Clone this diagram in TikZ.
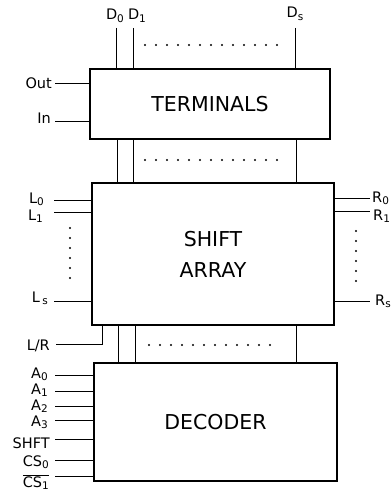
\documentclass[tikz,border=0pt]{standalone}
\usepackage{fontspec}
\setmainfont{DejaVu Sans}
\newcommand\sbs[1]{\raisebox{-0.35ex}{\fontsize{10.5}{10.5}\selectfont #1}}
\begin{document}
\begin{tikzpicture}[x=1pt,y=-1pt,
  blk/.style={draw, line width=1.3pt, inner sep=0pt, font=\fontsize{20.5}{31}\selectfont, align=center},
  wire/.style={line width=0.9pt},
  lbl/.style={font=\fontsize{14.5}{14.5}\selectfont, inner sep=0pt},
  dotrow/.style={line width=2.2pt, line cap=round, dash pattern=on 0pt off 11pt},
  dotcol/.style={line width=2.2pt, line cap=round, dash pattern=on 0pt off 10pt}]
\useasboundingbox (0,0) rectangle (391,494);

% blocks
\node[blk, minimum width=240pt, minimum height=70pt] (term) at (210,104) {TERMINALS};
\node[blk, minimum width=242pt, minimum height=142pt] (shift) at (213,254) {SHIFT\\ARRAY};
\node[blk, minimum width=243pt, minimum height=118pt] (dec) at (215.5,422) {DECODER};

% data lines top
\coordinate (d0t) at (116,28);
\coordinate (d1t) at (133,28);
\coordinate (dst) at (295,28);
\draw[wire] (d0t) -- (d0t |- term.north);
\draw[wire] (d1t) -- (d1t |- term.north);
\draw[wire] (dst) -- (dst |- term.north);
\node[lbl, anchor=base] (d0l) at (115,20) {D\sbs{0}};
\node[lbl, anchor=base] (d1l) at (137,20) {D\sbs{1}};
\node[lbl, anchor=base] (dsl) at (295,18) {D\sbs{s}};

% data lines between terminals and shift array
\coordinate (d0m) at (117,0);
\coordinate (d1m) at (133,0);
\coordinate (dsm) at (296,0);
\draw[wire] (term.south -| d0m) -- (shift.north -| d0m);
\draw[wire] (term.south -| d1m) -- (shift.north -| d1m);
\draw[wire] (term.south -| dsm) -- (shift.north -| dsm);

% data lines between shift array and decoder
\coordinate (d0b) at (118,0);
\coordinate (d1b) at (135,0);
\coordinate (dsb) at (296,0);
\draw[wire] (shift.south -| d0b) -- (dec.north -| d0b);
\draw[wire] (shift.south -| d1b) -- (dec.north -| d1b);
\draw[wire] (shift.south -| dsb) -- (dec.north -| dsb);

% dotted rows
\draw[dotrow] (145,45) -- (278,45);
\draw[dotrow] (145,160) -- (278,160);
\draw[dotrow] (149,345) -- (279,345);

% terminals inputs
\coordinate (outc) at (55,83);
\coordinate (inc) at (55,121);
\draw[wire] (outc) -- (outc -| term.west);
\draw[wire] (inc) -- (inc -| term.west);
\node[lbl, anchor=base east] (outl) at (52,89) {Out};
\node[lbl, anchor=base east] (inl) at (51,124) {In};

% shift array left
\coordinate (l0c) at (54,200);
\coordinate (l1c) at (54,212);
\coordinate (lsc) at (54,301);
\draw[wire] (l0c) -- (l0c -| shift.west);
\draw[wire] (l1c) -- (l1c -| shift.west);
\draw[wire] (lsc) -- (lsc -| shift.west);
\node[lbl, anchor=base east] (l0l) at (44,203) {L\sbs{0}};
\node[lbl, anchor=base east] (l1l) at (43,220) {L\sbs{1}};
\node[lbl, anchor=base east] (lsl) at (48,302) {L\,\sbs{s}};
\draw[dotcol] (70,228) -- (70,279);

% shift array right
\coordinate (r0c) at (370,198);
\coordinate (r1c) at (370,211);
\coordinate (rsc) at (370,301);
\draw[wire] (r0c -| shift.east) -- (r0c);
\draw[wire] (r1c -| shift.east) -- (r1c);
\draw[wire] (rsc -| shift.east) -- (rsc);
\node[lbl, anchor=base west] (r0l) at (372,202) {R\sbs{0}};
\node[lbl, anchor=base west] (r1l) at (373,220) {R\sbs{1}};
\node[lbl, anchor=base west] (rsl) at (375,305) {R\sbs{s}};
\draw[dotcol] (356,231) -- (356,282);

% L/R control
\coordinate (lrc) at (56,344);
\coordinate (lrx) at (102,344);
\draw[wire] (lrc) -- (lrx) -- (lrx |- shift.south);
\node[lbl, anchor=base east] (lrl) at (50,350) {L/R};

% decoder inputs
\coordinate (a0c) at (55,375);
\coordinate (a1c) at (55,391);
\coordinate (a2c) at (55,406);
\coordinate (a3c) at (55,420);
\coordinate (shc) at (55,439);
\coordinate (cs0c) at (55,460);
\coordinate (cs1c) at (55,476);
\foreach \c in {a0c,a1c,a2c,a3c,shc,cs0c,cs1c}
  \draw[wire] (\c) -- (\c -| dec.west);
\node[lbl, anchor=base east] (a0l) at (48,378) {A\sbs{0}};
\node[lbl, anchor=base east] (a1l) at (48,394) {A\sbs{1}};
\node[lbl, anchor=base east] (a2l) at (48,410) {A\sbs{2}};
\node[lbl, anchor=base east] (a3l) at (48,426) {A\sbs{3}};
\node[lbl, anchor=base east] (shl) at (50,448) {SHFT};
\node[lbl, anchor=base east] (cs0l) at (49,466) {CS\sbs{0}};
\node[lbl, anchor=base east] (cs1l) at (49,487) {$\overline{\hbox{CS\sbs{1}}}$};
\end{tikzpicture}
\end{document}
